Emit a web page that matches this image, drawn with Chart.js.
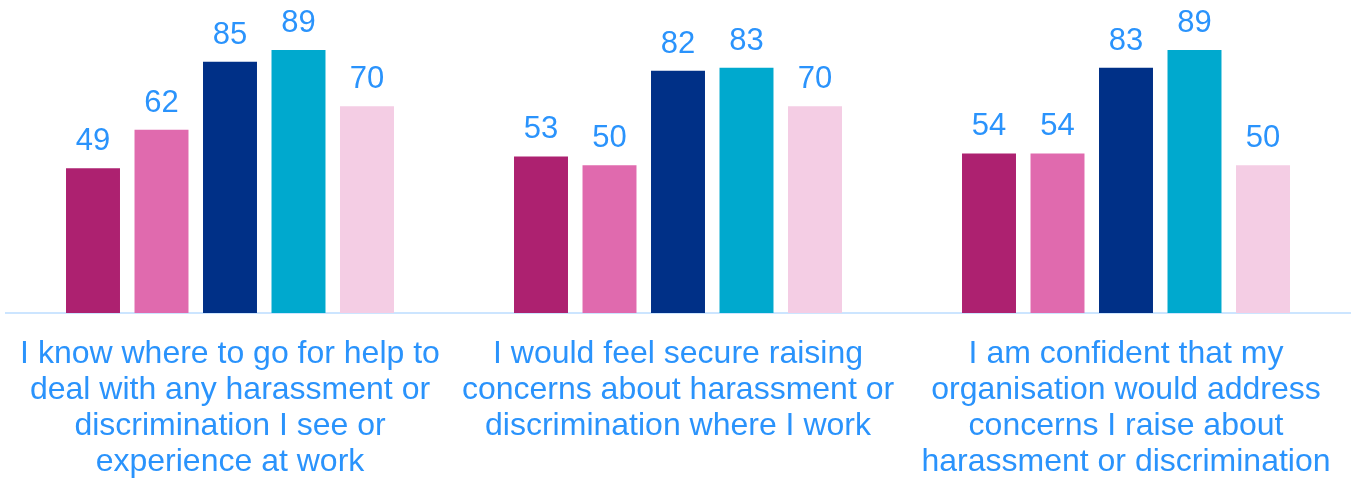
<!DOCTYPE html>
<html>
<head>
<meta charset="utf-8">
<script src="https://cdn.jsdelivr.net/npm/chart.js@4/dist/chart.umd.min.js"></script>
<style>
html,body{margin:0;padding:0;background:#fff;}
#wrap{width:1351px;height:478px;position:relative;}
</style>
</head>
<body>
<div id="wrap"><canvas id="c"></canvas></div>
<script>
const categories = [
  ["I know where to go for help to", "deal with any harassment or", "discrimination I see or", "experience at work"],
  ["I would feel secure raising", "concerns about harassment or", "discrimination where I work"],
  ["I am confident that my", "organisation would address", "concerns I raise about", "harassment or discrimination"]
];
const series1 = [49, 53, 54];
const series2 = [62, 50, 54];
const series3 = [85, 82, 83];
const series4 = [89, 83, 89];
const series5 = [70, 70, 50];
const seriesColors = ["#AD2170", "#E06AAE", "#003087", "#00A9CE", "#F4CDE4"];
const textColor = "#2A93FC";

const valueLabels = {
  id: "valueLabels",
  afterDatasetsDraw(chart) {
    const ctx = chart.ctx;
    ctx.save();
    ctx.font = "31px 'Liberation Sans', Arial, sans-serif";
    ctx.fillStyle = textColor;
    ctx.textAlign = "center";
    ctx.textBaseline = "alphabetic";
    chart.data.datasets.forEach((ds, i) => {
      const meta = chart.getDatasetMeta(i);
      meta.data.forEach((bar, j) => {
        ctx.fillText(String(ds.data[j]), bar.x, bar.y - 18);
      });
    });
    ctx.restore();
  }
};

const allSeries = [series1, series2, series3, series4, series5];
new Chart(document.getElementById("c"), {
  type: "bar",
  data: {
    labels: categories,
    datasets: allSeries.map((s, i) => ({
      label: "S" + (i + 1),
      data: s,
      backgroundColor: seriesColors[i],
      borderWidth: 0,
      categoryPercentage: 0.7645,
      barPercentage: 0.788
    }))
  },
  options: {
    responsive: true,
    maintainAspectRatio: false,
    animation: false,
    layout: { padding: { top: 17.5, left: 6, right: 1, bottom: 0 } },
    plugins: { legend: { display: false }, tooltip: { enabled: false } },
    scales: {
      y: { display: false, min: 0, max: 100 },
      x: {
        grid: { display: false, drawTicks: false },
        border: { display: true, color: "#CCE5FF", width: 2 },
        ticks: {
          color: textColor,
          padding: 23,
          maxRotation: 0,
          autoSkip: false,
          font: { family: "'Liberation Sans', Arial, sans-serif", size: 32, lineHeight: 1.125 }
        },
        afterFit(scale) {
          scale.height = 165;
          scale.paddingLeft = 0;
          scale.paddingRight = 0;
        }
      }
    }
  },
  plugins: [valueLabels]
});
</script>
</body>
</html>
